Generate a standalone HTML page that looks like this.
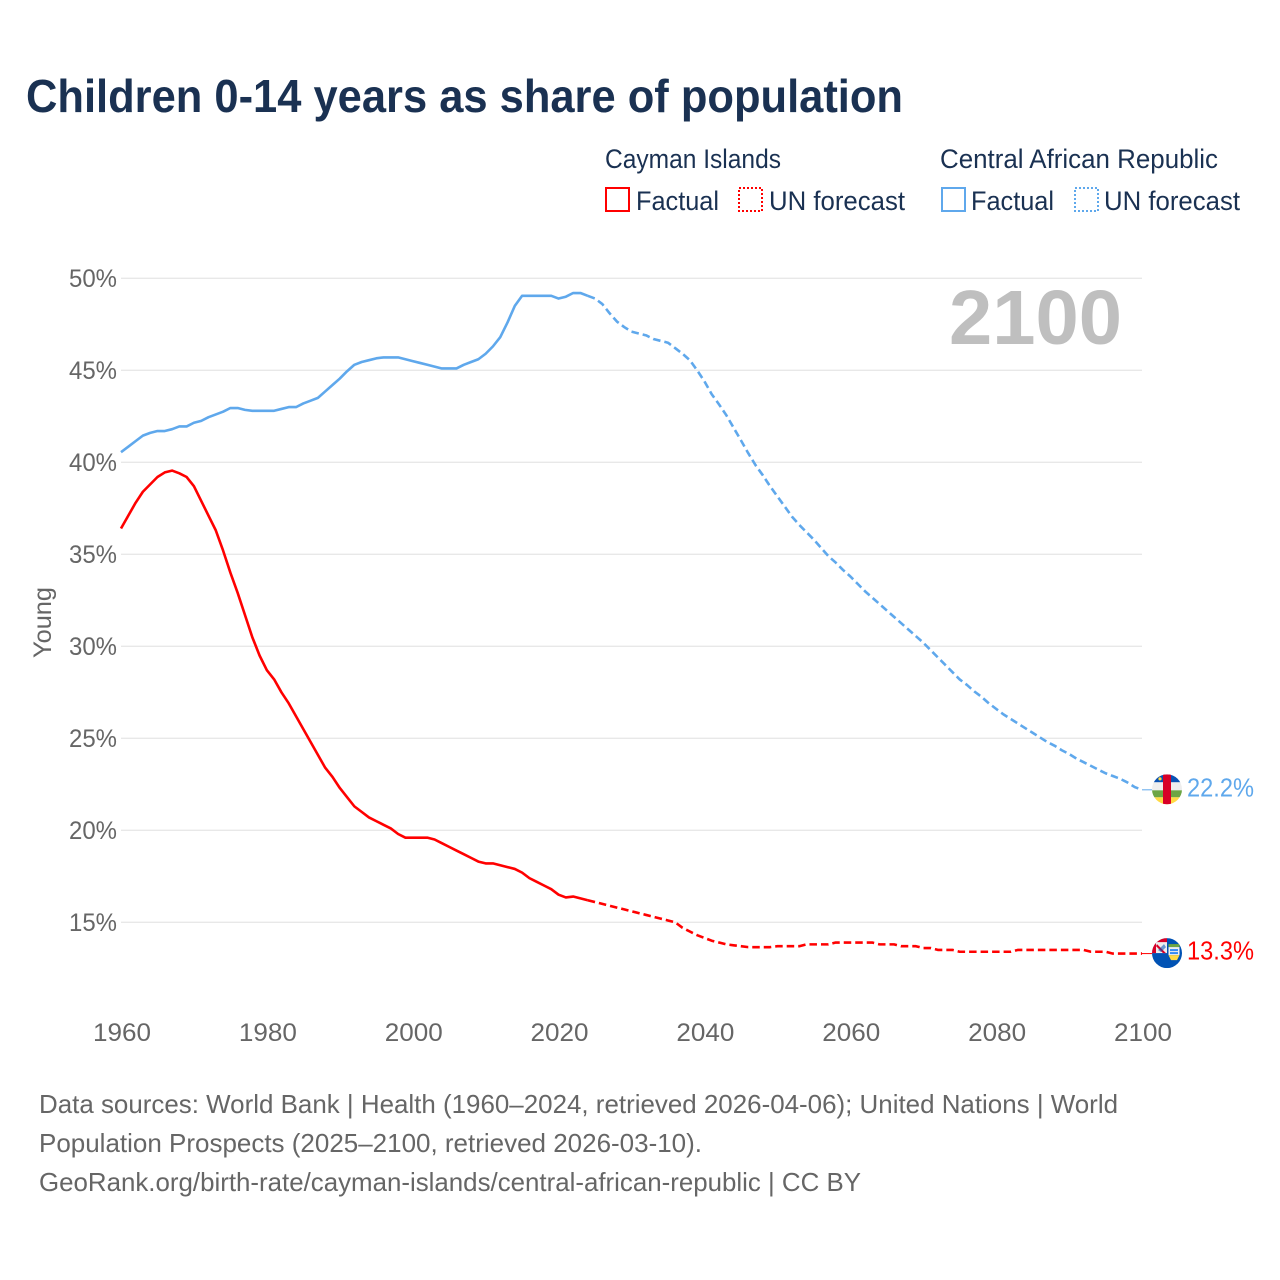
<!DOCTYPE html>
<html lang="en">
<head>
<meta charset="utf-8">
<title>Children 0-14 years as share of population</title>
<style>
html,body{margin:0;padding:0;background:#fff;}
svg{display:block;font-family:"Liberation Sans",sans-serif;}
</style>
</head>
<body>
<svg id="chart" width="1280" height="1280" viewBox="0 0 1280 1280" xmlns="http://www.w3.org/2000/svg">
<defs>
<clipPath id="flag-clip-a"><circle cx="0" cy="0" r="15"/></clipPath>
<clipPath id="flag-clip-b"><circle cx="0" cy="0" r="15"/></clipPath>
</defs>
<rect width="1280" height="1280" fill="#ffffff"/>
<text x="26" y="112" font-size="46" font-weight="700" fill="#1a3152" textLength="877" lengthAdjust="spacingAndGlyphs">Children 0-14 years as share of population</text>

<g font-size="26.5" fill="#1a3152">
<text x="605" y="168" textLength="176" lengthAdjust="spacingAndGlyphs">Cayman Islands</text>
<rect x="606" y="188" width="23" height="23" fill="none" stroke="#ff0000" stroke-width="2"/>
<text x="636" y="210" textLength="83" lengthAdjust="spacingAndGlyphs">Factual</text>
<rect x="739" y="188" width="23" height="23" fill="none" stroke="#ff0000" stroke-width="2" stroke-dasharray="2 2"/>
<text x="769" y="210" textLength="136" lengthAdjust="spacingAndGlyphs">UN forecast</text>
<text x="940" y="168" textLength="278" lengthAdjust="spacingAndGlyphs">Central African Republic</text>
<rect x="942" y="188" width="23" height="23" fill="none" stroke="#5fa8ec" stroke-width="2"/>
<text x="971" y="210" textLength="83" lengthAdjust="spacingAndGlyphs">Factual</text>
<rect x="1075" y="188" width="23" height="23" fill="none" stroke="#5fa8ec" stroke-width="2" stroke-dasharray="2 2"/>
<text x="1104" y="210" textLength="136" lengthAdjust="spacingAndGlyphs">UN forecast</text>
</g>

<g id="grid"></g>
<g id="y-ticks"></g>
<g id="x-ticks"></g>
<text transform="translate(51,622.5) rotate(-90)" text-anchor="middle" font-size="25" fill="#666666" textLength="71" lengthAdjust="spacingAndGlyphs">Young</text>
<text x="949" y="344" font-size="77" font-weight="700" fill="#bfbfbf" textLength="173" lengthAdjust="spacingAndGlyphs">2100</text>
<g id="series"></g>

<g id="flag-car">
<g clip-path="url(#flag-clip-a)">
<rect x="-15" y="-15" width="30" height="8" fill="#0a52b4"/>
<rect x="-15" y="-7" width="30" height="8" fill="#eeeeee"/>
<rect x="-15" y="1" width="30" height="7" fill="#6da544"/>
<rect x="-15" y="8" width="30" height="7" fill="#ffda44"/>
<rect x="-4" y="-15" width="8" height="30" fill="#d80027"/>
<circle cx="-7" cy="-10.5" r="1.6" fill="#ffda44"/>
</g>
</g>
<g id="flag-cayman">
<g clip-path="url(#flag-clip-b)">
<rect x="-15" y="-15" width="30" height="30" fill="#0052b4"/>
<rect x="-15" y="-15" width="15" height="15" fill="#eeeeee"/>
<path d="M-15,-15H0V-11H-11V0H-15Z" fill="#d80027"/>
<path d="M-10,-9L-1,0H-4L-11,-7Z" fill="#d80027"/>
<path d="M-9,-3L-3,-9L-1,-6L-6,-1Z" fill="#0052b4" opacity="0.55"/>
<rect x="1.5" y="-9" width="11" height="3" fill="#6da544"/>
<rect x="1.5" y="-6" width="11" height="8" fill="#eeeeee"/>
<rect x="3" y="-4" width="8" height="2" fill="#338af3"/>
<rect x="3" y="-1" width="8" height="2" fill="#338af3"/>
<path d="M1.5,2H12.5L10,7H4Z" fill="#ffda44"/>
</g>
</g>
<text id="label-car" x="1187" font-size="25.5" fill="#5fa8ec" textLength="67" lengthAdjust="spacingAndGlyphs"></text>
<text id="label-cayman" x="1187" font-size="25.5" fill="#ff0000" textLength="67" lengthAdjust="spacingAndGlyphs"></text>

<g font-size="26" fill="#666666">
<text x="39" y="1113" textLength="1079" lengthAdjust="spacingAndGlyphs">Data sources: World Bank | Health (1960–2024, retrieved 2026-04-06); United Nations | World</text>
<text x="39" y="1152" textLength="663" lengthAdjust="spacingAndGlyphs">Population Prospects (2025–2100, retrieved 2026-03-10).</text>
<text x="39" y="1191" textLength="822" lengthAdjust="spacingAndGlyphs">GeoRank.org/birth-rate/cayman-islands/central-african-republic | CC BY</text>
</g>
</svg>
<script>
const firstYear = 1960;
const lastYear = 2100;
const xTickYears = [1960, 1980, 2000, 2020, 2040, 2060, 2080, 2100];
const yTickValues = [50, 45, 40, 35, 30, 25, 20, 15];
const caymanFactual = [36.4,37.1,37.8,38.4,38.8,39.2,39.45,39.55,39.4,39.2,38.7,37.9,37.1,36.3,35.2,34.0,32.9,31.7,30.5,29.5,28.7,28.2,27.5,26.9,26.2,25.5,24.8,24.1,23.4,22.9,22.3,21.8,21.3,21.0,20.7,20.5,20.3,20.1,19.8,19.6,19.6,19.6,19.6,19.5,19.3,19.1,18.9,18.7,18.5,18.3,18.2,18.2,18.1,18.0,17.9,17.7,17.4,17.2,17.0,16.8,16.5,16.35,16.4,16.3,16.2];
const caymanForecast = [16.1,16.0,15.9,15.8,15.7,15.6,15.5,15.4,15.3,15.2,15.1,15.0,14.7,14.5,14.3,14.15,14.0,13.9,13.8,13.75,13.7,13.65,13.65,13.65,13.65,13.7,13.7,13.7,13.7,13.8,13.8,13.8,13.8,13.9,13.9,13.9,13.9,13.9,13.9,13.8,13.8,13.8,13.7,13.7,13.7,13.6,13.6,13.5,13.5,13.5,13.4,13.4,13.4,13.4,13.4,13.4,13.4,13.4,13.5,13.5,13.5,13.5,13.5,13.5,13.5,13.5,13.5,13.5,13.4,13.4,13.4,13.3,13.3,13.3,13.3,13.3];
const carFactual = [40.55,40.85,41.15,41.45,41.6,41.7,41.7,41.8,41.95,41.95,42.15,42.25,42.45,42.6,42.75,42.95,42.95,42.85,42.8,42.8,42.8,42.8,42.9,43.0,43.0,43.2,43.35,43.5,43.85,44.2,44.55,44.95,45.3,45.45,45.55,45.65,45.7,45.7,45.7,45.6,45.5,45.4,45.3,45.2,45.1,45.1,45.1,45.3,45.45,45.6,45.9,46.3,46.8,47.6,48.5,49.05,49.05,49.05,49.05,49.05,48.9,49.0,49.2,49.2,49.05];
const carForecast = [48.9,48.6,48.1,47.65,47.35,47.1,47.0,46.9,46.7,46.6,46.5,46.2,45.9,45.55,45.0,44.4,43.7,43.15,42.56,41.88,41.2,40.5,39.85,39.3,38.7,38.15,37.6,37.05,36.6,36.2,35.8,35.35,34.9,34.55,34.15,33.8,33.4,33.0,32.65,32.3,31.95,31.6,31.25,30.9,30.55,30.2,29.8,29.4,29.0,28.6,28.2,27.9,27.55,27.25,26.9,26.6,26.3,26.05,25.8,25.55,25.3,25.05,24.8,24.6,24.35,24.15,23.9,23.7,23.5,23.3,23.1,22.95,22.8,22.6,22.35,22.2];

const SVGNS = 'http://www.w3.org/2000/svg';
const xLeft = 121, xRight = 1142, yTop = 278.3, yPerPoint = 18.4;
function xScale(year){ return xLeft + (year - firstYear) * (xRight - xLeft) / (lastYear - firstYear); }
function yScale(value){ return yTop + (50 - value) * yPerPoint; }
function make(tag, parent, attrs){
  const el = document.createElementNS(SVGNS, tag);
  for (const k in attrs) el.setAttribute(k, attrs[k]);
  parent.appendChild(el);
  return el;
}
function pathFrom(values, startYear, prefix){
  const pts = values.map(function(v, i){ return xScale(startYear + i).toFixed(2) + ',' + yScale(v).toFixed(2); });
  return 'M' + (prefix ? prefix.concat(pts) : pts).join('L');
}

const gridG = document.getElementById('grid');
const yG = document.getElementById('y-ticks');
yTickValues.forEach(function(v){
  const line = make('line', gridG, {x1: xLeft, x2: xRight, y1: yScale(v), y2: yScale(v), stroke: '#e8e8e8', 'stroke-width': 1.3});
  
  
  const t = make('text', yG, {x: 69, y: yScale(v) + 8.7, 'font-size': 25, fill: '#666666', textLength: 48, lengthAdjust: 'spacingAndGlyphs'});
  
  
  t.textContent = v + '%';
});

const xG = document.getElementById('x-ticks');
xTickYears.forEach(function(y){
  const t = make('text', xG, {x: xScale(y) - 28, y: 1041, 'font-size': 25, fill: '#666666', textLength: 58, lengthAdjust: 'spacingAndGlyphs'});
  
  
  t.textContent = y;
});

const seriesG = document.getElementById('series');
function drawSeries(factual, forecast, color, key){
  const solid = make('path', seriesG, {d: pathFrom(factual, firstYear), fill: 'none', stroke: color, 'stroke-width': 2.6, 'stroke-linejoin': 'round'});
  
  
  solid.setAttribute('data-series', key);
  const bridgeYear = firstYear + factual.length - 1;
  const bridge = [xScale(bridgeYear).toFixed(2) + ',' + yScale(factual[factual.length - 1]).toFixed(2)];
  const dashed = make('path', seriesG, {d: pathFrom(forecast, firstYear + factual.length, bridge), fill: 'none', stroke: color, 'stroke-width': 2.6, 'stroke-dasharray': '7.5 4', 'stroke-linejoin': 'round'});
  
  
  dashed.setAttribute('data-series', key);
  const endV = forecast[forecast.length - 1];
  const conn = make('line', seriesG, {x1: xRight, x2: xRight + 10, y1: yScale(endV), y2: yScale(endV), stroke: color, 'stroke-width': 1});
  
  
  return endV;
}
const carEnd = drawSeries(carFactual, carForecast, '#5fa8ec', 'car');
const caymanEnd = drawSeries(caymanFactual, caymanForecast, '#ff0000', 'cayman');

document.getElementById('flag-car').setAttribute('transform', 'translate(1167,' + (yScale(carEnd) - 0.5) + ')');
document.getElementById('flag-cayman').setAttribute('transform', 'translate(1167,' + (yScale(caymanEnd) - 0.5) + ')');
const labelCar = document.getElementById('label-car');
labelCar.setAttribute('y', yScale(carEnd) + 6.5);
labelCar.textContent = carEnd.toFixed(1) + '%';
const labelCayman = document.getElementById('label-cayman');
labelCayman.setAttribute('y', yScale(caymanEnd) + 6);
labelCayman.textContent = caymanEnd.toFixed(1) + '%';
</script>
</body>
</html>
